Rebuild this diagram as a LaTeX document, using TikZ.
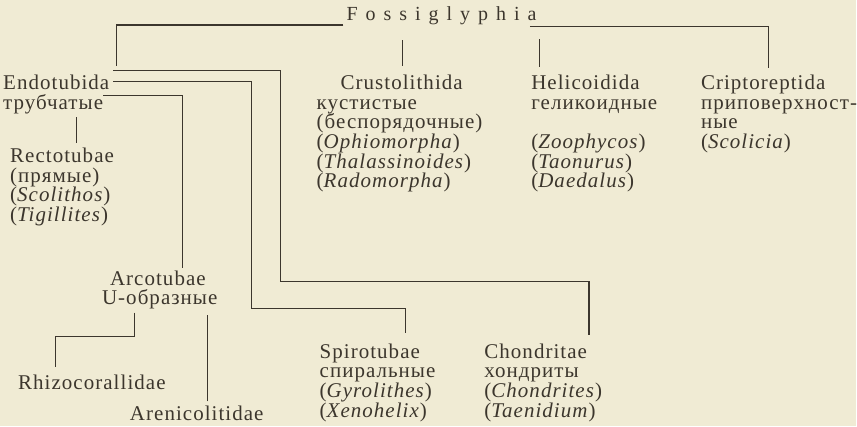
\documentclass[tikz,border=0pt]{standalone}
\usepackage{fontspec}
\setmainfont{Liberation Serif}[LetterSpace=5]
\newfontfamily\titlefont{Liberation Serif}[LetterSpace=40]
\usepackage{tikz}
\definecolor{paper}{RGB}{240, 235, 212}
\definecolor{ink}{RGB}{60, 54, 45}

\begin{document}
\begin{tikzpicture}[x=1pt, y=-1pt,
    taxon/.style={anchor=north west, inner sep=0pt, align=left, text=ink,
                  font=\fontsize{21}{19.7}\selectfont,
                  execute at begin node={\lineskiplimit=-20pt\relax}},
    link/.style={draw=ink, line width=1.1pt}]
    \fill[paper] (0,0) rectangle (857,427);

    \node[anchor=base west, inner sep=0pt, text=ink,
          font=\titlefont\fontsize{20}{20}\selectfont] (fossil) at (347,21) {Fossiglyphia};
    \node[taxon] (endo) at (3,75) {Endotubida\\трубчатые};
    \node[taxon] (recto) at (10,148) {Rectotubae\\(прямые)\\(\textit{Scolithos})\\(\textit{Tigillites})};
    \node[taxon] (crusto) at (317,75) {\hspace*{24pt}Crustolithida\\кустистые\\(беспорядочные)\\(\textit{Ophiomorpha})\\(\textit{Thalassinoides})\\(\textit{Radomorpha})};
    \node[taxon] (helico) at (532,75) {Helicoidida\\геликоидные\\[19.7pt](\textit{Zoophycos})\\(\textit{Taonurus})\\(\textit{Daedalus})};
    \node[taxon] (cripto) at (702,75) {Criptoreptida\\приповерхност-\\ные\\(\textit{Scolicia})};
    \node[taxon] (arco) at (102,271) {\hspace*{8pt}Arcotubae\\U-образные};
    \node[taxon, anchor=base west] (rhizo) at (18,390) {Rhizocorallidae};
    \node[taxon, anchor=base west] (areni) at (130,421) {Arenicolitidae};
    \node[taxon] (spiro) at (320,344) {Spirotubae\\спиральные\\(\textit{Gyrolithes})\\(\textit{Xenohelix})};
    \node[taxon] (chondr) at (485,344) {Chondritae\\хондриты\\(\textit{Chondrites})\\(\textit{Taenidium})};

    \coordinate (endo-up) at (117,66);
    \coordinate (cripto-up) at (770,68);
    \coordinate (crusto-up) at (403,66);
    \coordinate (helico-up) at (540,67);
    \coordinate (recto-up) at (77,143);
    \coordinate (arco-up) at (183,268);
    \coordinate (spiro-up) at (406,334);
    \coordinate (chondr-up) at (590,336);
    \coordinate (rhizo-up) at (56,368);
    \coordinate (areni-up) at (208,402);

    \draw[link] ([xshift=-3pt]fossil.west |- 0,25) -| (endo-up);
    \draw[link] ([xshift=-7pt]fossil.east |- 0,27) -| (cripto-up);
    \draw[link] (crusto-up) -- ++(0,-26);
    \draw[link] (helico-up) -- ++(0,-28);
    \draw[link] ([xshift=4pt]endo.north east |- 0,71) -- (281,71) -- (281,282) -| (chondr-up);
    \draw[link] ([xshift=4pt]endo.north east |- 0,82) -- (252,82) -- (252,309) -| (spiro-up);
    \draw[link] ([xshift=-6pt]endo.east |- 0,96) -- (183,96) -- (arco-up);
    \draw[link] ([yshift=-3pt]endo.south -| recto-up) -- (recto-up);
    \draw[link] (arco.south -| 135,0) ++(0,3) -- (135,337) -| (rhizo-up);
    \draw[link] (areni-up) -- ++(0,-86);
\end{tikzpicture}
\end{document}
